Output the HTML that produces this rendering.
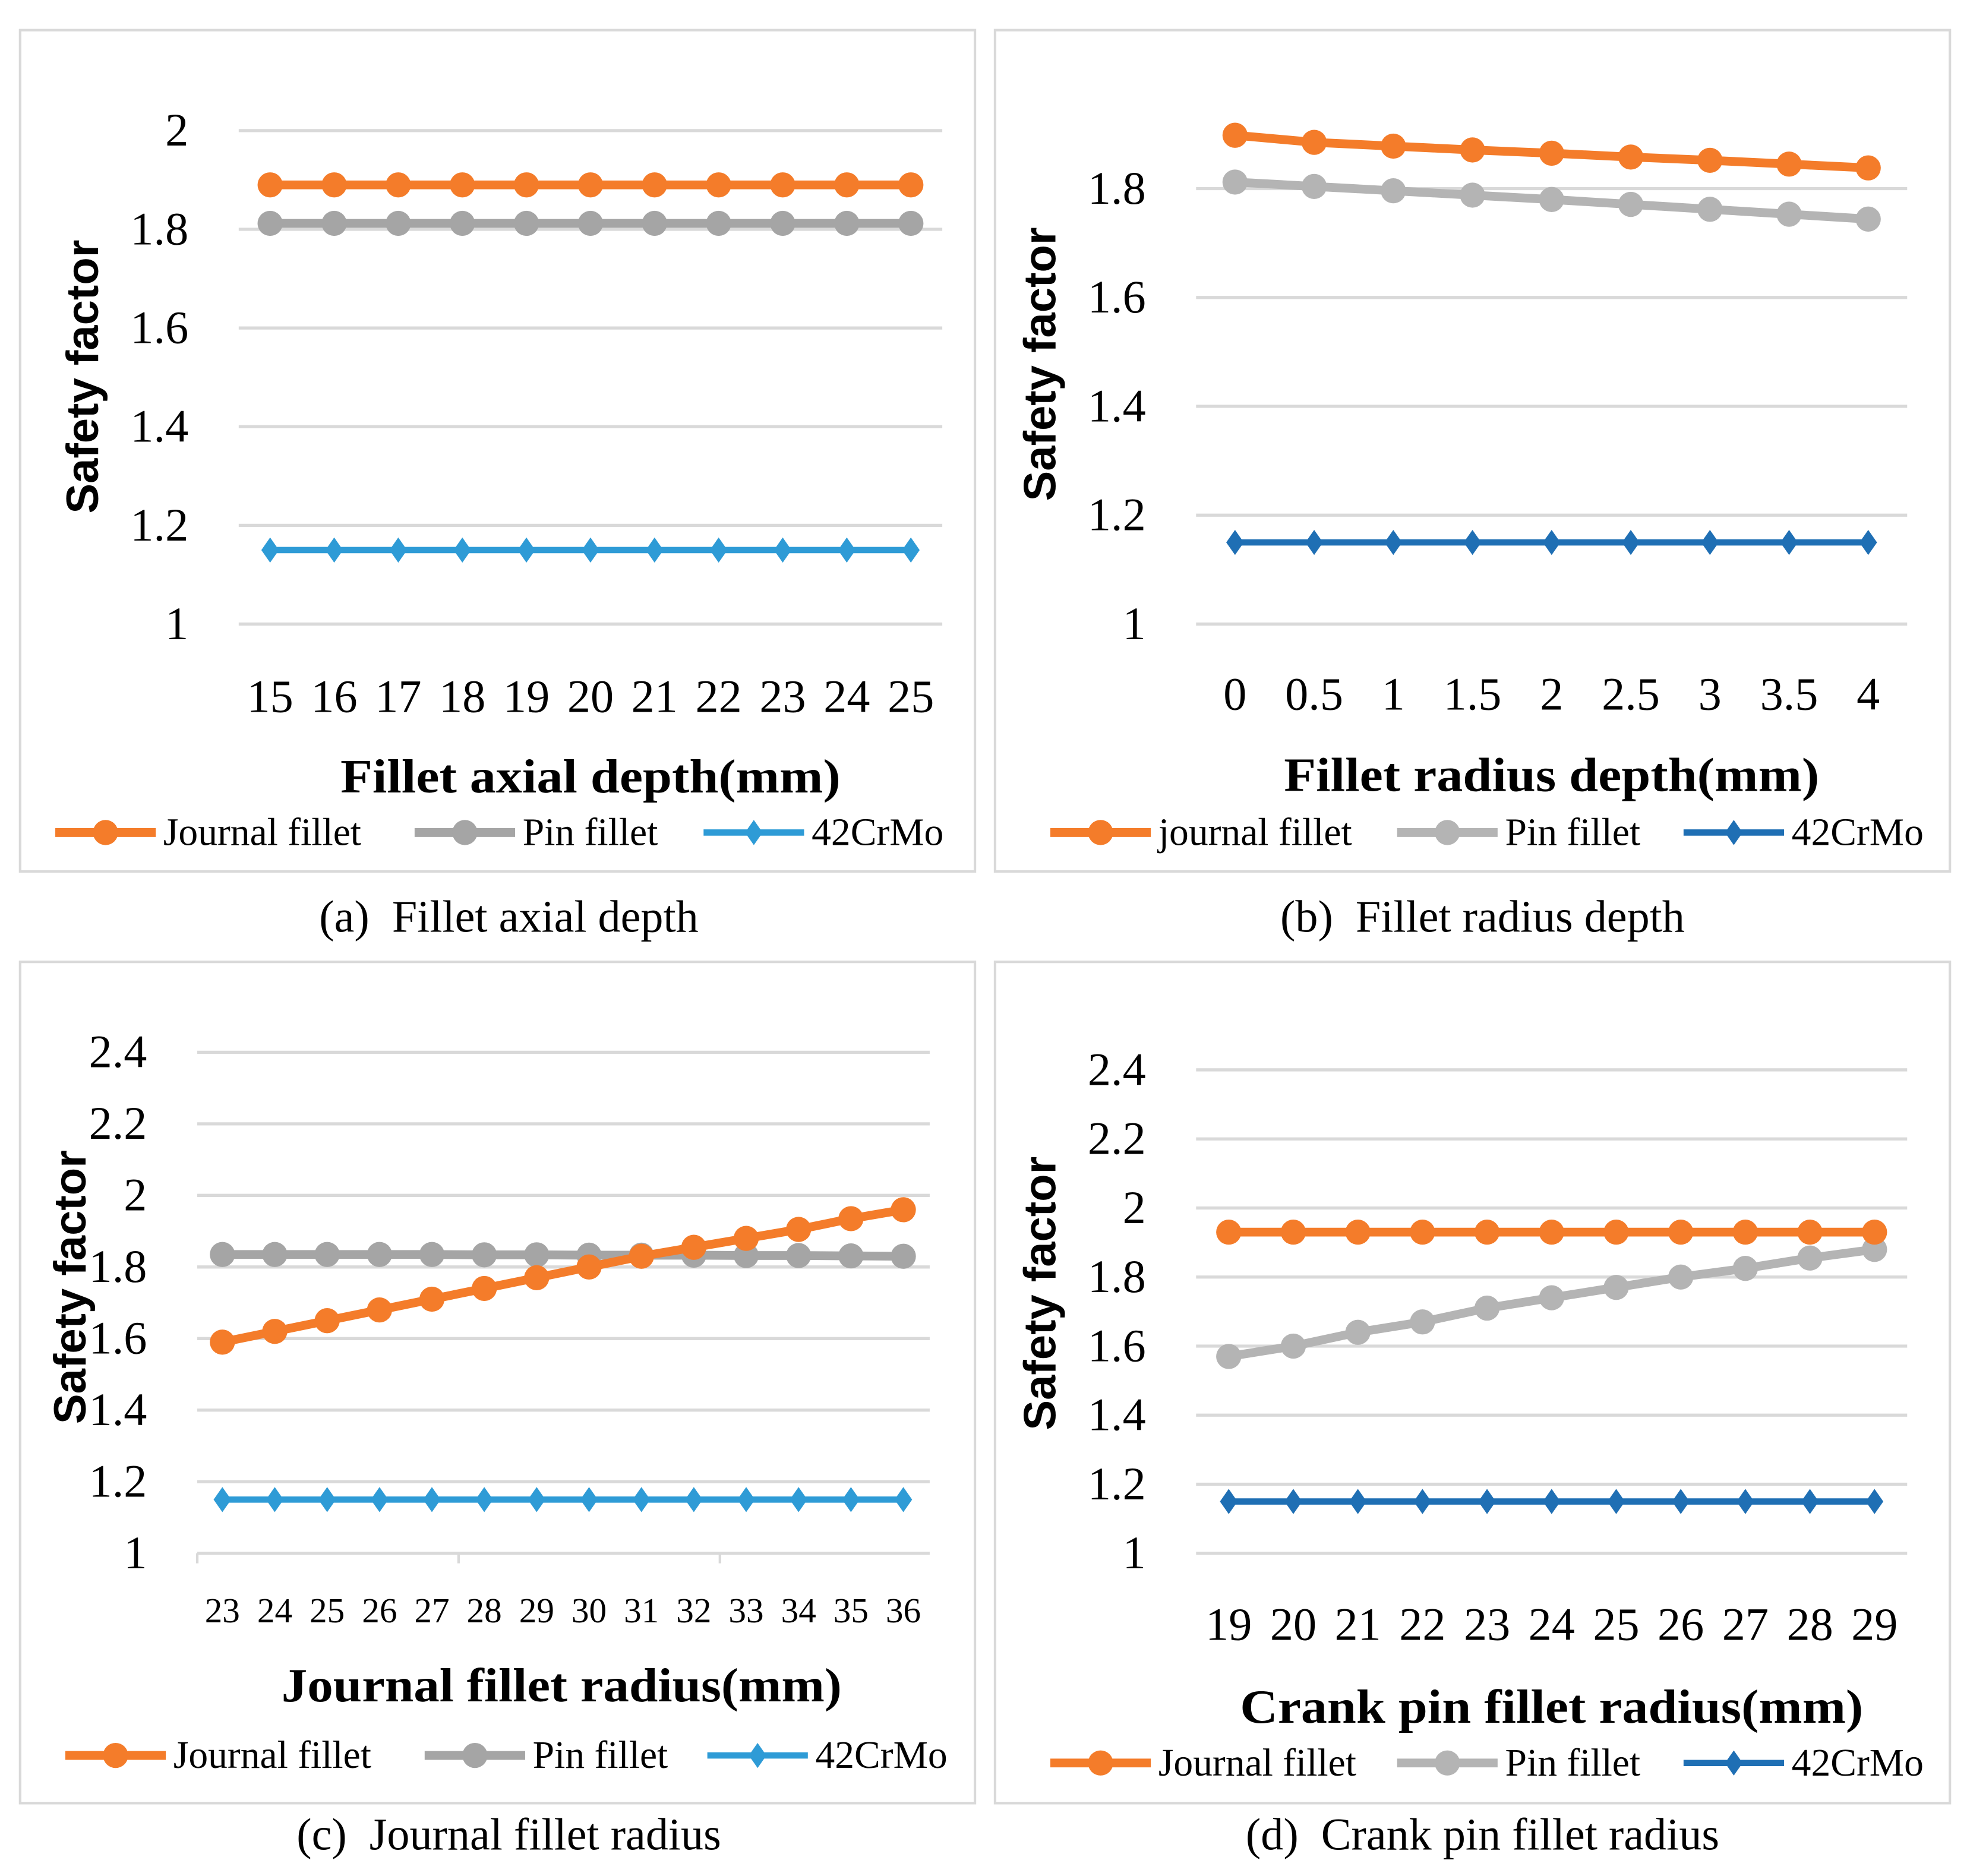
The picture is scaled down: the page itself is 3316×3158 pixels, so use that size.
<!DOCTYPE html>
<html><head><meta charset="utf-8"><style>
html,body{margin:0;padding:0;background:#fff}
svg{display:block}
text{font-family:"Liberation Serif",serif;fill:#000;white-space:pre}
.b{font-weight:bold}
</style></head><body>
<svg id="s" width="3316" height="3158" viewBox="0 0 1568 1494" preserveAspectRatio="none" xmlns="http://www.w3.org/2000/svg"></svg>
<script>
const catsA=["15","16","17","18","19","20","21","22","23","24","25"];
const journalA=[1.89,1.89,1.89,1.89,1.89,1.89,1.89,1.89,1.89,1.89,1.89];
const pinA=[1.812,1.812,1.812,1.812,1.812,1.812,1.812,1.812,1.812,1.812,1.812];
const steelA=[1.15,1.15,1.15,1.15,1.15,1.15,1.15,1.15,1.15,1.15,1.15];
const ticksA=[1,1.2,1.4,1.6,1.8,2];

const catsB=["0","0.5","1","1.5","2","2.5","3","3.5","4"];
const journalB=[1.898,1.885,1.878,1.871,1.865,1.858,1.852,1.845,1.838];
const pinB=[1.812,1.804,1.796,1.788,1.78,1.771,1.762,1.753,1.744];
const steelB=[1.15,1.15,1.15,1.15,1.15,1.15,1.15,1.15,1.15];
const ticksB=[1,1.2,1.4,1.6,1.8];

const catsC=["23","24","25","26","27","28","29","30","31","32","33","34","35","36"];
const journalC=[1.59,1.62,1.65,1.68,1.71,1.74,1.77,1.80,1.83,1.855,1.88,1.905,1.935,1.96];
const pinC=[1.835,1.835,1.835,1.835,1.835,1.834,1.834,1.833,1.833,1.833,1.832,1.832,1.831,1.83];
const steelC=[1.15,1.15,1.15,1.15,1.15,1.15,1.15,1.15,1.15,1.15,1.15,1.15,1.15,1.15];
const ticksC=[1,1.2,1.4,1.6,1.8,2,2.2,2.4];

const catsD=["19","20","21","22","23","24","25","26","27","28","29"];
const journalD=[1.93,1.93,1.93,1.93,1.93,1.93,1.93,1.93,1.93,1.93,1.93];
const pinD=[1.57,1.60,1.64,1.67,1.71,1.74,1.77,1.80,1.825,1.855,1.88];
const steelD=[1.15,1.15,1.15,1.15,1.15,1.15,1.15,1.15,1.15,1.15,1.15];
const ticksD=[1,1.2,1.4,1.6,1.8,2,2.2,2.4];

const NS="http://www.w3.org/2000/svg";
const svg=document.getElementById('s');
function el(tag,attrs,parent,txt){const e=document.createElementNS(NS,tag);for(const k in attrs)e.setAttribute(k,attrs[k]);if(txt!==undefined)e.textContent=txt;(parent||svg).appendChild(e);return e;}
function marker(g,type,x,y,c){
  if(type==='circle')return el('circle',{cx:x,cy:y,r:10,fill:c},g);
  return el('path',{d:`M${x} ${y-10}L${x+7} ${y}L${x} ${y+10}L${x-7} ${y}Z`,fill:c},g);
}
function panel(o){
  const g=el('g',{});
  
  
  const box=el('rect',{x:o.bx,y:o.by,width:760,height:670,fill:'none',stroke:'#d9d9d9','stroke-width':2},g);
  
  const yS=v=>o.y0-(v-1)*o.unit;
  const n=o.cats.length;
  const xS=i=>o.px0+i*(o.px1-o.px0)/(n-1);
  o.ticks.forEach(t=>{
    const gl=el('line',{x1:o.gx0,x2:o.gx1,y1:yS(t),y2:yS(t),stroke:'#d9d9d9','stroke-width':2.5},g);
    
    const tl=el('text',{x:o.ylx,y:yS(t)+12,'text-anchor':'end','font-size':37},g,String(t));
    
  });
  if(o.axisTicks){o.axisTicks.forEach(x=>{el('line',{x1:x,x2:x,y1:o.y0,y2:o.y0+8,stroke:'#d9d9d9','stroke-width':2},g);});}
  o.cats.forEach((c,i)=>{
    const t=el('text',{x:xS(i),y:o.xly,'text-anchor':'middle','font-size':o.xfs},g,c);
    
  });
  const series=[[o.steel,o.c3,'diamond','42crmo'],[o.pin,o.c2,'circle','pin-fillet'],[o.journal,o.c1,'circle','journal-fillet']];
  series.forEach(([vals,c,m,nm])=>{
    const sg=el('g',{},g);
    
    el('polyline',{points:vals.map((v,i)=>xS(i)+','+yS(v)).join(' '),fill:'none',stroke:c,'stroke-width':m==='circle'?7:5},sg);
    vals.forEach((v,i)=>{const p=marker(sg,m,xS(i),yS(v),c);});
  });
  const xt=el('text',{x:o.xtx,y:o.xty,'text-anchor':'middle','font-size':38,class:'b',textLength:o.xtl,lengthAdjust:'spacingAndGlyphs'},g,o.xtitle);
  
  const yt=el('text',{x:0,y:0,'text-anchor':'middle','font-size':36,class:'b',style:'font-family:"Liberation Sans",sans-serif',transform:`translate(${o.ytx},${o.yty}) rotate(-90)`},g,'Safety factor');
  
  const leg=[[o.l1,o.c1,'circle',o.n1],[o.l2,o.c2,'circle','Pin fillet'],[o.l3,o.c3,'diamond','42CrMo']];
  leg.forEach(([lx,c,m,lab])=>{
    const lg=el('g',{},g);
    
    el('line',{x1:lx,x2:lx+80,y1:o.ly,y2:o.ly,stroke:c,'stroke-width':m==='circle'?7:5},lg);
    marker(lg,m,lx+40,o.ly,c);
    el('text',{x:lx+86,y:o.ly+10,'font-size':31},lg,lab);
  });
  const cap=el('text',{x:o.capx,y:o.capy,'text-anchor':'middle','font-size':36},g,o.cap);
  
}
panel({id:'a',bx:16,by:24,cats:catsA,journal:journalA,pin:pinA,steel:steelA,ticks:ticksA,y0:497,unit:393/1,gx0:190,gx1:750,px0:215,px1:725,ylx:150,xly:567,xfs:37,xtl:398,
 c1:'#f47c2a',c2:'#a5a5a5',c3:'#2e9bd6',xtitle:'Fillet axial depth(mm)',xtx:470,xty:631,ytx:78,yty:300,ly:663,l1:44,l2:330,l3:560,n1:'Journal fillet',cap:'(a)  Fillet axial depth',capx:405,capy:742});
panel({id:'b',bx:792,by:24,cats:catsB,journal:journalB,pin:pinB,steel:steelB,ticks:ticksB,y0:497,unit:433.5,gx0:952,gx1:1518,px0:983,px1:1487,ylx:912,xly:565,xfs:37,xtl:426,
 c1:'#f47c2a',c2:'#b4b4b4',c3:'#1f6fb4',xtitle:'Fillet radius depth(mm)',xtx:1235,xty:630,ytx:840,yty:290,ly:663,l1:836,l2:1112,l3:1340,n1:'journal fillet',cap:'(b)  Fillet radius depth',capx:1180,capy:742});
panel({id:'c',bx:16,by:766,cats:catsC,journal:journalC,pin:pinC,steel:steelC,ticks:ticksC,y0:1237,unit:285,gx0:157,gx1:740,px0:177,px1:719,ylx:117,xly:1292,xfs:28,axisTicks:[157,365,573],xtl:446,
 c1:'#f47c2a',c2:'#a5a5a5',c3:'#2e9bd6',xtitle:'Journal fillet radius(mm)',xtx:447,xty:1355,ytx:68,yty:1025,ly:1398,l1:52,l2:338,l3:563,n1:'Journal fillet',cap:'(c)  Journal fillet radius',capx:405,capy:1473});
panel({id:'d',bx:792,by:766,cats:catsD,journal:journalD,pin:pinD,steel:steelD,ticks:ticksD,y0:1237,unit:275,gx0:952,gx1:1518,px0:978,px1:1492,ylx:912,xly:1306,xfs:37,xtl:496,
 c1:'#f47c2a',c2:'#b4b4b4',c3:'#1f6fb4',xtitle:'Crank pin fillet radius(mm)',xtx:1235,xty:1372,ytx:840,yty:1030,ly:1404,l1:836,l2:1112,l3:1340,n1:'Journal fillet',cap:'(d)  Crank pin fillet radius',capx:1180,capy:1473});
</script>
</body></html>
